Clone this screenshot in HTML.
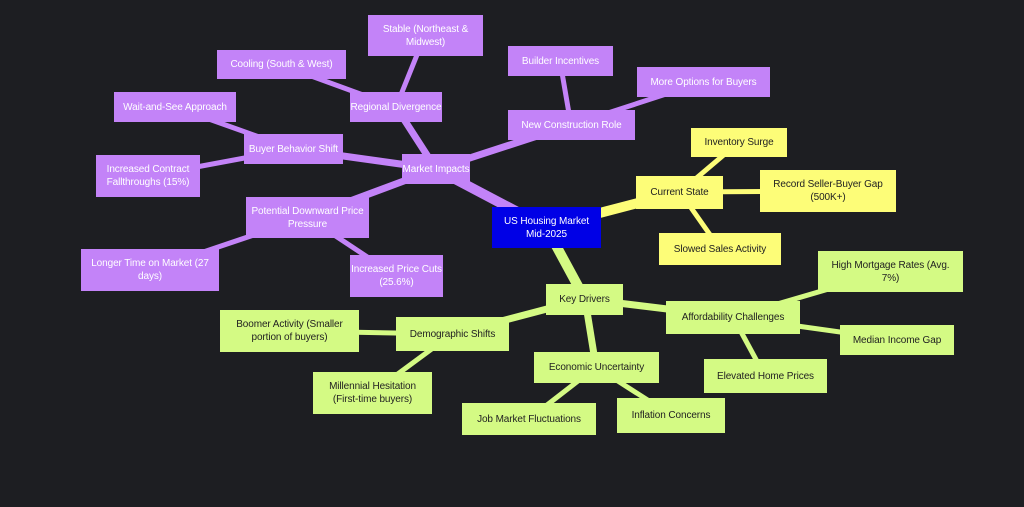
<!DOCTYPE html>
<html><head><meta charset="utf-8"><style>
body{margin:0;width:1024px;height:507px;background:#1d1e22;overflow:hidden;font-family:"Liberation Sans","DejaVu Sans",sans-serif;}
svg{position:absolute;left:0;top:0}
.n{position:absolute;display:flex;align-items:center;justify-content:center;text-align:center;font-size:10px;line-height:13px;box-sizing:border-box;padding:0;white-space:nowrap;letter-spacing:-0.1px}
.p{background:#c383f8;color:#fff}
.y{background:#fdfd78;color:#222}
.g{background:#d4fa84;color:#222}
</style></head><body>
<svg width="1024" height="507">
<g stroke-linecap="butt">
<g stroke="#c383f8">
<line x1="546" y1="227" x2="436" y2="169" stroke-width="10"/>
<line x1="436" y1="169" x2="396" y2="107" stroke-width="7"/>
<line x1="436" y1="169" x2="571" y2="125" stroke-width="7"/>
<line x1="436" y1="169" x2="293" y2="149" stroke-width="7"/>
<line x1="436" y1="169" x2="307" y2="217" stroke-width="7"/>
<line x1="396" y1="107" x2="425" y2="35" stroke-width="5"/>
<line x1="396" y1="107" x2="281" y2="65" stroke-width="5"/>
<line x1="571" y1="125" x2="560" y2="61" stroke-width="5"/>
<line x1="571" y1="125" x2="703" y2="82" stroke-width="5"/>
<line x1="293" y1="149" x2="175" y2="107" stroke-width="5"/>
<line x1="293" y1="149" x2="148" y2="176" stroke-width="5"/>
<line x1="307" y1="217" x2="150" y2="270" stroke-width="5"/>
<line x1="307" y1="217" x2="396" y2="276" stroke-width="5"/>
</g>
<g stroke="#fdfd78">
<line x1="546" y1="227" x2="680" y2="192" stroke-width="10"/>
<line x1="680" y1="192" x2="739" y2="142" stroke-width="5"/>
<line x1="680" y1="192" x2="828" y2="191" stroke-width="5"/>
<line x1="680" y1="192" x2="720" y2="249" stroke-width="5"/>
</g>
<g stroke="#d4fa84">
<line x1="546" y1="227" x2="585" y2="299" stroke-width="10"/>
<line x1="585" y1="299" x2="733" y2="317" stroke-width="7"/>
<line x1="585" y1="299" x2="596" y2="367" stroke-width="7"/>
<line x1="585" y1="299" x2="452" y2="334" stroke-width="7"/>
<line x1="733" y1="317" x2="890" y2="271" stroke-width="5"/>
<line x1="733" y1="317" x2="897" y2="340" stroke-width="5"/>
<line x1="733" y1="317" x2="765" y2="376" stroke-width="5"/>
<line x1="596" y1="367" x2="529" y2="419" stroke-width="5"/>
<line x1="596" y1="367" x2="671" y2="415" stroke-width="5"/>
<line x1="452" y1="334" x2="289" y2="331" stroke-width="5"/>
<line x1="452" y1="334" x2="372" y2="393" stroke-width="5"/>
</g>
</g>
</svg>
<div class="n" style="left:492px;top:207px;width:109px;height:41px;background:#0000e6;color:#fff">US Housing Market<br>Mid-2025</div>
<div class="n p" style="left:402px;top:154px;width:68px;height:30px">Market Impacts</div>
<div class="n p" style="left:368px;top:15px;width:115px;height:41px">Stable (Northeast &amp;<br>Midwest)</div>
<div class="n p" style="left:217px;top:50px;width:129px;height:29px">Cooling (South &amp; West)</div>
<div class="n p" style="left:350px;top:92px;width:92px;height:30px">Regional Divergence</div>
<div class="n p" style="left:508px;top:46px;width:105px;height:30px">Builder Incentives</div>
<div class="n p" style="left:508px;top:110px;width:127px;height:30px">New Construction Role</div>
<div class="n p" style="left:637px;top:67px;width:133px;height:30px">More Options for Buyers</div>
<div class="n p" style="left:114px;top:92px;width:122px;height:30px">Wait-and-See Approach</div>
<div class="n p" style="left:244px;top:134px;width:99px;height:30px">Buyer Behavior Shift</div>
<div class="n p" style="left:96px;top:155px;width:104px;height:42px">Increased Contract<br>Fallthroughs (15%)</div>
<div class="n p" style="left:246px;top:197px;width:123px;height:41px">Potential Downward Price<br>Pressure</div>
<div class="n p" style="left:81px;top:249px;width:138px;height:42px">Longer Time on Market (27<br>days)</div>
<div class="n p" style="left:350px;top:255px;width:93px;height:42px">Increased Price Cuts<br>(25.6%)</div>
<div class="n y" style="left:636px;top:176px;width:87px;height:33px">Current State</div>
<div class="n y" style="left:691px;top:128px;width:96px;height:29px">Inventory Surge</div>
<div class="n y" style="left:760px;top:170px;width:136px;height:42px">Record Seller-Buyer Gap<br>(500K+)</div>
<div class="n y" style="left:659px;top:233px;width:122px;height:32px">Slowed Sales Activity</div>
<div class="n g" style="left:546px;top:284px;width:77px;height:31px">Key Drivers</div>
<div class="n g" style="left:666px;top:301px;width:134px;height:33px">Affordability Challenges</div>
<div class="n g" style="left:818px;top:251px;width:145px;height:41px">High Mortgage Rates (Avg.<br>7%)</div>
<div class="n g" style="left:840px;top:325px;width:114px;height:30px">Median Income Gap</div>
<div class="n g" style="left:704px;top:359px;width:123px;height:34px">Elevated Home Prices</div>
<div class="n g" style="left:534px;top:352px;width:125px;height:31px">Economic Uncertainty</div>
<div class="n g" style="left:462px;top:403px;width:134px;height:32px">Job Market Fluctuations</div>
<div class="n g" style="left:617px;top:398px;width:108px;height:35px">Inflation Concerns</div>
<div class="n g" style="left:396px;top:317px;width:113px;height:34px">Demographic Shifts</div>
<div class="n g" style="left:220px;top:310px;width:139px;height:42px">Boomer Activity (Smaller<br>portion of buyers)</div>
<div class="n g" style="left:313px;top:372px;width:119px;height:42px">Millennial Hesitation<br>(First-time buyers)</div>
</body></html>
